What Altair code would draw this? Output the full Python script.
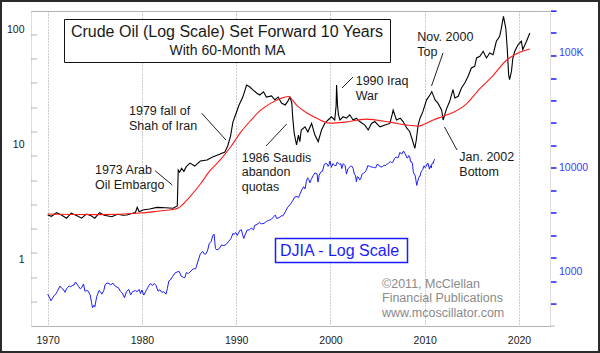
import altair as alt
import pandas as pd

# ---------------- data ----------------
# Crude oil (original dates; plotted 10 years forward)
oil_year = [
    1960.0, 1960.4, 1960.95, 1961.5, 1962.0, 1962.5, 1963.0, 1963.6, 1964.1, 1964.6,
    1965.0, 1965.5, 1966.0, 1966.8, 1967.4, 1968.0, 1968.4, 1969.0, 1969.3, 1969.5,
    1969.7, 1970.1, 1970.8, 1971.6, 1972.5, 1973.3, 1973.75, 1973.85, 1974.0, 1974.2,
    1974.45, 1974.7, 1975.1, 1975.6, 1976.2, 1976.9, 1977.5, 1978.3, 1978.8, 1979.1,
    1979.4, 1979.65, 1980.0, 1980.3, 1980.7, 1981.1, 1981.45, 1981.8, 1982.2, 1982.5,
    1982.9, 1983.2, 1983.75, 1984.1, 1984.45, 1984.8, 1985.2, 1985.45, 1985.7, 1985.9,
    1986.0, 1986.15, 1986.3, 1986.4, 1986.6, 1986.75, 1986.9, 1987.3, 1987.6, 1988.0,
    1988.35, 1988.7, 1989.05, 1989.4, 1989.75, 1990.1, 1990.45, 1990.6, 1990.65, 1990.75,
    1990.85, 1991.0, 1991.35, 1991.7, 1992.05, 1992.4, 1992.75, 1993.1, 1993.65, 1994.0,
    1994.35, 1994.7, 1995.25, 1995.8, 1996.3, 1996.55, 1996.65, 1997.0, 1997.4, 1997.7,
    1998.1, 1998.4, 1998.7, 1998.95, 1999.1, 1999.3, 1999.5, 1999.8, 2000.2, 2000.55,
    2000.75, 2001.1, 2001.4, 2001.8, 2001.95, 2002.3, 2002.65, 2003.0, 2003.2, 2003.55,
    2003.9, 2004.25, 2004.6, 2004.95, 2005.3, 2005.5, 2005.85, 2006.2, 2006.55, 2006.9,
    2007.25, 2007.6, 2007.95, 2008.1, 2008.35, 2008.6, 2008.75, 2008.9, 2009.0, 2009.2,
    2009.35, 2009.55, 2009.9, 2010.25, 2010.4, 2010.8, 2011.15,
]
oil_price = [
    2.46, 2.40, 2.58, 2.45, 2.31, 2.55, 2.45, 2.31, 2.51, 2.42,
    2.31, 2.58, 2.45, 2.38, 2.50, 2.45, 2.46, 2.55, 2.58, 2.87,
    2.63, 2.72, 2.78, 2.87, 2.85, 2.82, 2.95, 6.06, 5.80, 6.27,
    5.90, 6.48, 6.96, 6.56, 7.25, 7.41, 7.86, 8.34, 8.69, 9.80,
    11.96, 15.8, 19.0, 22.3, 26.1, 33.2, 31.9, 30.0, 28.2, 27.2,
    29.0, 26.1, 26.7, 24.7, 26.1, 23.2, 22.3, 23.8, 26.2, 23.2,
    17.2, 12.7, 11.0, 10.0, 12.2, 10.7, 13.5, 14.4, 13.0, 15.4,
    12.2, 10.7, 13.5, 15.4, 16.5, 17.6, 16.5, 22.0, 33.2, 22.0,
    18.3, 16.5, 17.6, 17.1, 18.3, 16.5, 17.1, 16.0, 14.9, 13.5,
    15.4, 16.0, 14.4, 14.9, 15.4, 18.5, 20.1, 16.5, 17.1, 16.0,
    14.0, 13.1, 11.0, 9.35, 11.0, 14.9, 17.1, 19.5, 24.7, 27.2,
    29.1, 24.7, 23.1, 20.1, 16.5, 20.5, 24.0, 30.3, 25.6, 26.5,
    31.3, 34.6, 39.6, 46.8, 48.3, 57.1, 59.0, 65.3, 57.1, 63.1,
    61.0, 79.8, 88.2, 100.6, 131.6, 104.0, 69.7, 40.9, 37.0, 43.7,
    57.1, 65.3, 74.5, 79.8, 67.4, 79.8, 94.2,
]

# 60-month moving average of crude oil (original dates)
ma_year = [
    1960.0, 1965.5, 1969.8, 1971.9, 1973.3, 1973.85, 1975.1, 1976.2, 1977.2, 1978.3,
    1979.4, 1980.5, 1981.5, 1982.6, 1983.6, 1984.7, 1985.5, 1986.5, 1987.5, 1988.6,
    1989.9, 1991.5, 1993.75, 1996.3, 1998.1, 1999.3, 2000.9, 2001.9, 2003.0, 2004.4,
    2005.8, 2007.2, 2008.7, 2009.7, 2011.15,
]
ma_price = [
    2.51, 2.48, 2.56, 2.67, 2.75, 2.83, 3.56, 4.58, 5.95, 7.42,
    9.6, 13.0, 16.2, 20.1, 22.9, 25.4, 26.4, 21.8, 19.0, 17.0,
    15.5, 15.8, 16.8, 15.8, 14.9, 14.6, 16.5, 17.7, 19.2, 22.7,
    30.6, 39.8, 54.8, 61.8, 68.4,
]

# Dow Jones Industrial Average (not shifted)
djia_year = [
    1970.0, 1970.15, 1970.35, 1970.5, 1970.65, 1970.85, 1971.0, 1971.3, 1971.45, 1971.6,
    1971.85, 1972.0, 1972.25, 1972.45, 1972.6, 1972.8, 1972.95, 1973.1, 1973.3, 1973.45,
    1973.6, 1973.8, 1973.95, 1974.15, 1974.3, 1974.5, 1974.65, 1974.75, 1974.9, 1975.0,
    1975.2, 1975.45, 1975.6, 1975.75, 1975.95, 1976.1, 1976.3, 1976.5, 1976.7, 1976.9,
    1977.1, 1977.35, 1977.5, 1977.7, 1977.9, 1978.15, 1978.35, 1978.6, 1978.8, 1979.0,
    1979.3, 1979.5, 1979.7, 1979.85, 1980.0, 1980.2, 1980.45, 1980.7, 1980.9, 1981.1,
    1981.3, 1981.5, 1981.7, 1981.9, 1982.1, 1982.3, 1982.55, 1982.7, 1982.85, 1983.0,
    1983.25, 1983.5, 1983.75, 1983.95, 1984.15, 1984.4, 1984.55, 1984.7, 1984.95, 1985.2,
    1985.45, 1985.7, 1985.95, 1986.2, 1986.45, 1986.6, 1986.75, 1986.95, 1987.15, 1987.35,
    1987.5, 1987.65, 1987.8, 1987.95, 1988.2, 1988.45, 1988.7, 1988.95, 1989.2, 1989.45,
    1989.65, 1989.8, 1989.95, 1990.1, 1990.4, 1990.55, 1990.7, 1990.8, 1990.95, 1991.15,
    1991.4, 1991.6, 1991.85, 1991.95, 1992.2, 1992.45, 1992.7, 1992.95, 1993.2, 1993.45,
    1993.7, 1993.95, 1994.15, 1994.3, 1994.55, 1994.8, 1994.95, 1995.2, 1995.45, 1995.7,
    1995.95, 1996.2, 1996.45, 1996.6, 1996.8, 1996.95, 1997.15, 1997.3, 1997.45, 1997.58,
    1997.7, 1997.82, 1997.95, 1998.15, 1998.35, 1998.5, 1998.58, 1998.67, 1998.8, 1998.95,
    1999.15, 1999.35, 1999.5, 1999.65, 1999.75, 1999.85, 1999.95, 2000.1, 2000.25, 2000.45,
    2000.6, 2000.7, 2000.85, 2000.95, 2001.1, 2001.2, 2001.35, 2001.55, 2001.7, 2001.85,
    2001.95, 2002.15, 2002.25, 2002.4, 2002.55, 2002.65, 2002.75, 2002.85, 2002.95, 2003.1,
    2003.2, 2003.35, 2003.5, 2003.7, 2003.85, 2003.95, 2004.15, 2004.35, 2004.55, 2004.7,
    2004.8, 2004.95, 2005.2, 2005.3, 2005.5, 2005.7, 2005.8, 2005.95, 2006.15, 2006.35,
    2006.45, 2006.6, 2006.8, 2006.95, 2007.15, 2007.2, 2007.35, 2007.5, 2007.58, 2007.7,
    2007.8, 2007.88, 2007.95, 2008.1, 2008.2, 2008.3, 2008.4, 2008.5, 2008.6, 2008.7,
    2008.78, 2008.88, 2008.95, 2009.05, 2009.15, 2009.25, 2009.35, 2009.45, 2009.5, 2009.6,
    2009.7, 2009.8, 2009.88, 2009.95, 2010.05, 2010.15, 2010.25, 2010.35, 2010.45, 2010.5,
    2010.6, 2010.7, 2010.75, 2010.85, 2010.92, 2010.97, 2011.05, 2011.1,
]
djia_close = [
    800, 760, 700, 735, 770, 800, 840, 940, 905, 890,
    830, 890, 940, 930, 950, 960, 1020, 980, 930, 890,
    910, 980, 850, 860, 850, 790, 680, 610, 640, 620,
    760, 860, 840, 800, 860, 970, 1000, 990, 960, 1000,
    950, 920, 910, 850, 820, 745, 840, 880, 790, 840,
    860, 840, 880, 810, 870, 785, 860, 940, 990, 950,
    990, 950, 850, 875, 830, 840, 800, 900, 1040, 1060,
    1140, 1220, 1250, 1260, 1150, 1120, 1110, 1230, 1210, 1270,
    1330, 1330, 1550, 1800, 1880, 1790, 1780, 1900, 2220, 2290,
    2570, 2660, 1990, 1940, 1990, 2140, 2110, 2170, 2300, 2440,
    2700, 2650, 2750, 2590, 2880, 2900, 2600, 2440, 2630, 2880,
    2900, 3000, 2900, 3170, 3230, 3350, 3270, 3300, 3430, 3500,
    3560, 3750, 3900, 3640, 3700, 3850, 3830, 4150, 4550, 4790,
    5120, 5590, 5650, 5530, 6030, 6450, 6880, 6580, 7670, 8220,
    7940, 7440, 7910, 8550, 9060, 8950, 8880, 7540, 8600, 9180,
    9360, 10790, 10970, 10830, 10340, 10730, 11500, 10130, 10920, 10520,
    10520, 11220, 10970, 10790, 10890, 9880, 10910, 10500, 8850, 9850,
    10020, 10370, 10400, 9920, 8740, 8660, 7590, 8400, 8340, 7890,
    7990, 8850, 9000, 9280, 9780, 10450, 10360, 10190, 10140, 10080,
    10030, 10780, 10500, 10190, 10270, 10570, 10440, 10720, 10990, 11370,
    11170, 11190, 12080, 12460, 12270, 12350, 13630, 13410, 13210, 13900,
    13930, 13370, 13260, 12270, 12260, 12820, 12640, 11350, 11380, 10850,
    9330, 8830, 8780, 8000, 7060, 7610, 8170, 8500, 8450, 9170,
    9500, 9710, 10340, 10430, 10070, 10330, 10860, 11010, 10140, 9770,
    10470, 10010, 10790, 11120, 11010, 11580, 11890, 12000,
]

SHIFT_YEARS = 10

# axis labels / ticks
decade_ticks = [1970, 1980, 1990, 2000, 2010, 2020]
left_label_values = [1, 10, 100]
left_label_text = ["1", "10", "100"]
right_label_values = [100000, 10000]
right_label_text = ["100K", "10000"]
right_low_label_values = [1000]
right_low_label_text = ["1000"]
left_tick_values = [0.431, 0.698, 1.15, 1.86, 3.01, 4.86, 8.02, 12.97, 20.97, 34.6, 55.96, 90.5]
right_tick_values = [656, 1020, 1650, 2563, 4065, 6310, 10000, 15530, 24600,
                     38300, 59400, 94200, 149300, 231000]

# ---------------- styling / layout ----------------
W, H = 519, 315
FONT = "Liberation Sans"
BLUE = "#1c1cff"
LBLUE = "#3a3aff"
FRAME = "#b4b4b4"
TXT = "#1a1a1a"

x_scale = alt.Scale(domain=[1968.23, 2023.29], nice=False, zero=False)
oil_scale = alt.Scale(type="log", domain=[0.2667, 146.3], nice=False)
djia_scale = alt.Scale(type="log", domain=[422.8, 231860], nice=False)

x_axis = alt.Axis(values=decade_ticks, format="d", grid=True, gridDash=[1, 2],
                  gridColor="#999999", gridWidth=1, domainColor=FRAME, ticks=False,
                  labelPadding=9, labelFontSize=10.5, labelColor=TXT, title=None)
X = alt.X("plot_year:Q", scale=x_scale, axis=x_axis)

left_axis = alt.Axis(orient="left", values=left_tick_values, ticks=False, labels=False,
                     domain=True, domainColor=FRAME, grid=False, title=None)

oil_df = pd.DataFrame({"oil_year": oil_year, "price": oil_price})
ma_df = pd.DataFrame({"oil_year": ma_year, "price": ma_price})
djia_df = pd.DataFrame({"plot_year": djia_year, "djia": djia_close})
shift_expr = f"datum.oil_year + {SHIFT_YEARS}"

Y_oil = alt.Y("price:Q", scale=oil_scale, axis=left_axis)

black = alt.Chart(oil_df).transform_calculate(plot_year=shift_expr).mark_line(
    color="#000000", strokeWidth=1.1).encode(x=X, y=Y_oil)
red = alt.Chart(ma_df).transform_calculate(plot_year=shift_expr).mark_line(
    color="#ff1a1a", strokeWidth=1.1, interpolate="monotone").encode(x=X, y=Y_oil)

left_ticks = alt.Chart(pd.DataFrame({"v": left_tick_values})).mark_rule(
    color=FRAME, strokeWidth=1).encode(
    y=alt.Y("v:Q", scale=oil_scale, axis=None), x=alt.value(0), x2=alt.value(6))
left_labels = alt.Chart(pd.DataFrame({"v": left_label_values, "t": left_label_text})).mark_text(
    align="right", baseline="middle", fontSize=10.5, color=TXT).encode(
    y=alt.Y("v:Q", scale=oil_scale, axis=None), x=alt.value(-6.5), text="t:N")

oil_group = alt.layer(black, red, left_ticks, left_labels)

blue = alt.Chart(djia_df).mark_line(color=BLUE, strokeWidth=1).encode(
    x=X, y=alt.Y("djia:Q", scale=djia_scale, axis=None))
right_ticks = alt.Chart(pd.DataFrame({"v": right_tick_values})).mark_rule(
    color=BLUE, strokeWidth=1.5).encode(
    y=alt.Y("v:Q", scale=djia_scale, axis=None), x=alt.value(520), x2=alt.value(525.5))
right_labels = alt.Chart(pd.DataFrame({"v": right_label_values, "t": right_label_text})).mark_text(
    align="left", baseline="middle", fontSize=10.5, color=LBLUE).encode(
    y=alt.Y("v:Q", scale=djia_scale, axis=None), x=alt.value(528), text="t:N")
right_low_label = alt.Chart(pd.DataFrame({"v": right_low_label_values, "t": right_low_label_text})).mark_text(
    align="left", baseline="middle", fontSize=10.5, color=LBLUE, dy=-11).encode(
    y=alt.Y("v:Q", scale=djia_scale, axis=None), x=alt.value(528), text="t:N")

djia_group = alt.layer(blue, right_ticks, right_labels, right_low_label)

one = pd.DataFrame({"k": [0]})


def box(x1, y1, x2, y2, stroke, width, fill="white"):
    return alt.Chart(one).mark_rect(fill=fill, stroke=stroke, strokeWidth=width).encode(
        x=alt.value(x1), x2=alt.value(x2), y=alt.value(y1), y2=alt.value(y2))


def text(s, x, y, size, color=TXT, align="left"):
    return alt.Chart(one).mark_text(align=align, baseline="alphabetic", fontSize=size,
                                    color=color).encode(
        x=alt.value(x), y=alt.value(y), text=alt.value(s))


def line(x1, y1, x2, y2, color="#222222", width=1):
    return alt.Chart(one).mark_rule(color=color, strokeWidth=width).encode(
        x=alt.value(x1), y=alt.value(y1), x2=alt.value(x2), y2=alt.value(y2))


deco = [
    line(0, 0.5, W, 0.5, color=FRAME),                       # top frame
    line(W, H, W + 5, H, color=FRAME),                       # bottom line extension
    box(-30, -10, 568, 341, "#2b2b2b", 2, fill="transparent"),  # outer border
    box(33.5, 8.5, 359.5, 51.5, "#111111", 1),               # title box
    text("Crude Oil (Log Scale) Set Forward 10 Years", 196, 25.5, 16, align="center"),
    text("With 60-Month MA", 196.5, 44, 14, align="center"),
    box(244.5, 227.5, 376.5, 251.5, BLUE, 1.5),              # DJIA box
    text("DJIA - Log Scale", 308.5, 245, 16, color=BLUE, align="center"),
    text("\u00a92011, McClellan", 351, 277, 12.5, color="#8a8a8a"),
    text("Financial Publications", 351, 291, 12.5, color="#8a8a8a"),
    text("www.mcoscillator.com", 351, 305.5, 12.5, color="#8a8a8a"),
]

annotations = [
    (["1979 fall of", "Shah of Iran"], 98, 104, (170.7, 102.3, 195, 129)),
    (["1973 Arab", "Oil Embargo"], 64, 163, (124, 159.7, 141.3, 174)),
    (["1986 Saudis", "abandon", "quotas"], 210.7, 150.5, (235, 135, 255.7, 113)),
    (["1990 Iraq", "War"], 324.7, 74, (311, 77, 322, 66)),
    (["Nov. 2000", "Top"], 386.3, 29.7, (412, 42, 400.5, 75)),
    (["Jan. 2002", "Bottom"], 428.3, 149.7, (413.5, 116, 426, 139)),
]
for lines, ax, ay, seg in annotations:
    for i, s in enumerate(lines):
        deco.append(text(s, ax, ay + 14.8 * i, 12.5))
    deco.append(line(*seg))

chart = alt.layer(oil_group, djia_group, *deco).resolve_scale(y="independent").properties(
    width=W, height=H,
    padding={"left": 31, "top": 11, "right": 50, "bottom": 27},
    autosize=alt.AutoSizeParams(type="none"),
    background="white",
).configure_view(stroke="transparent").configure(font=FONT)

chart.save("out.html", embed_options={"renderer": "svg", "actions": False})
